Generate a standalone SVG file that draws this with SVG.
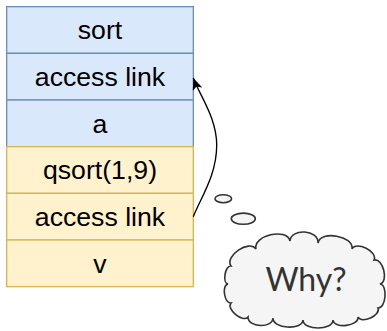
<svg xmlns="http://www.w3.org/2000/svg" width="387" height="331" viewBox="0 0 387 331">
  <style>
    .blue { fill: #dae8fc; stroke: #6c8ebf; stroke-width: 1.33; }
    .yellow { fill: #fff2cc; stroke: #d6b656; stroke-width: 1.33; }
    .label { font-family: "Liberation Sans", Arial, sans-serif; font-size: 26.67px; fill: #000000; text-anchor: middle; }
    .thought { fill: #f5f5f5; stroke: #333333; stroke-width: 1.6; }
    .cloudtext { font-family: Lato, "Liberation Sans", sans-serif; font-size: 32px; fill: #333333; text-anchor: middle; }
    .edge { fill: none; stroke: #000000; stroke-width: 1.33; }
  </style>
  <defs>
    <marker id="classic" viewBox="0 0 12 10" refX="12" refY="5" markerWidth="12" markerHeight="10" markerUnits="userSpaceOnUse" orient="auto">
      <path d="M0,0 L12,5 L0,10 L3,5 Z" fill="#000000"/>
    </marker>
  </defs>

  <!-- activation record of sort -->
  <g id="sort">
    <rect class="blue" x="6.67" y="6.67" width="186.67" height="46.67"/>
    <text class="label" x="100" y="39.3">sort</text>
  </g>
  <g id="sort-access-link">
    <rect class="blue" x="6.67" y="53.33" width="186.67" height="46.67"/>
    <text class="label" x="100" y="86">access link</text>
  </g>
  <g id="sort-a">
    <rect class="blue" x="6.67" y="100" width="186.67" height="46.67"/>
    <text class="label" x="100" y="132.6">a</text>
  </g>

  <!-- activation record of qsort(1,9) -->
  <g id="qsort">
    <rect class="yellow" x="6.67" y="146.67" width="186.67" height="46.67"/>
    <text class="label" x="100" y="179.3">qsort(1,9)</text>
  </g>
  <g id="qsort-access-link">
    <rect class="yellow" x="6.67" y="193.33" width="186.67" height="46.67"/>
    <text class="label" x="100" y="226">access link</text>
  </g>
  <g id="qsort-v">
    <rect class="yellow" x="6.67" y="240" width="186.67" height="46.67"/>
    <text class="label" x="100" y="272.6">v</text>
  </g>

  <!-- access link pointer -->
  <g id="connectors">
    <path class="edge" d="M193.3,216.7 C201.3,196.7 216.7,175 216.7,145 C216.7,118 200,96 193.3,78" marker-end="url(#classic)"/>
  </g>

  <!-- thought bubble -->
  <g id="bubble-small">
    <ellipse class="thought" cx="223.3" cy="198.7" rx="8.3" ry="4"/>
  </g>
  <g id="bubble-medium">
    <ellipse class="thought" cx="243.3" cy="218.7" rx="12" ry="5.6"/>
  </g>
  <g id="cloud">
    <path class="thought" d="M231,266 C224.2,256.1 249.2,239.1 256,249 C252.8,235.4 286.8,227.4 290,241 C290.9,227.7 318.9,229.7 318,243 C320.3,229.9 354.3,235.9 352,249 C356.2,240.7 378.2,251.7 374,260 C383,257.7 389,281.7 380,284 C388,284.7 386,308.7 378,308 C381.3,315.3 361.3,324.3 358,317 C359.1,326.2 334.1,329.2 333,320 C333,330.7 303,330.7 303,320 C302.3,330.7 272.3,328.7 273,318 C272.6,328.7 247.6,327.7 248,317 C242.9,323.2 225.9,309.2 231,303 C224.4,304 221.4,285 228,284 C222.1,283 225.1,265 231,266 Z"/>
    <text class="cloudtext" x="306" y="291">Why?</text>
  </g>
</svg>
